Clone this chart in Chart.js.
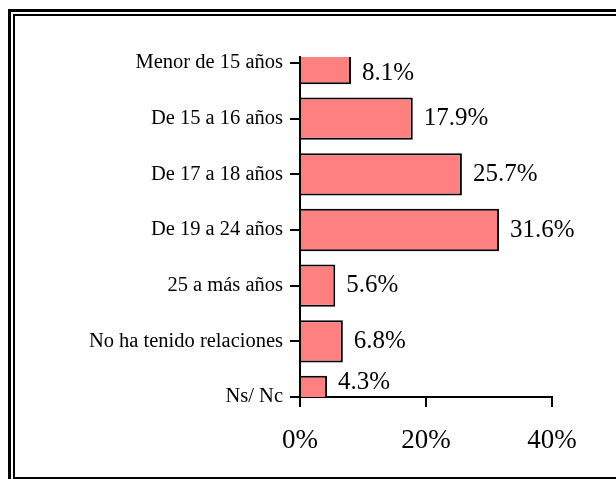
<!DOCTYPE html>
<html>
<head>
<meta charset="utf-8">
<script src="https://cdn.jsdelivr.net/npm/chart.js@4.4.1/dist/chart.umd.min.js"></script>
<style>
    html, body { margin: 0; padding: 0; background: #fff; overflow: hidden; }
    #wrap { position: relative; width: 616px; height: 479px; overflow: hidden; }
    .frame { position: absolute; box-sizing: border-box; border-style: solid; border-color: #000; }
    #outer { left: 8px; top: 9px; width: 700px; height: 700px; border-width: 3px; }
    #inner { left: 13px; top: 14px; width: 700px; height: 465px; border-width: 2px; }
    canvas { position: absolute; left: 0; top: 0; }
</style>
</head>
<body>
<div id="wrap">
    <div class="frame" id="outer"></div>
    <div class="frame" id="inner"></div>
    <canvas id="chart" width="616" height="479"></canvas>
</div>
<script>
// 类别（从上到下）
var CATEGORIES = [
    "Menor de 15 años",
    "De 15 a 16 años",
    "De 17 a 18 años",
    "De 19 a 24 años",
    "25 a más años",
    "No ha tenido relaciones",
    "Ns/ Nc"
];

// 百分比
var VALUES = [8.1, 17.9, 25.7, 31.6, 5.6, 6.8, 4.3];

// x 轴刻度
var X_TICKS = [0, 20, 40];

var SERIF = '"Liberation Serif", "Times New Roman", serif';

// 数值标签插件
var valueLabels = {
    id: "valueLabels",
    afterDatasetsDraw: function (chart) {
        var ctx  = chart.ctx;
        var area = chart.chartArea;
        var meta = chart.getDatasetMeta(0);
        ctx.save();
        ctx.fillStyle = "#000";
        ctx.font = "25px " + SERIF;
        ctx.textAlign = "left";
        ctx.textBaseline = "middle";
        meta.data.forEach(function (bar, i) {
            var p  = bar.getProps(["x", "y"], true);
            // 被裁掉的首尾柱子：标签保持在绘图区内
            var cy = Math.min(Math.max(p.y, area.top + 16), area.bottom - 15);
            ctx.fillText(VALUES[i].toFixed(1) + "%", p.x + 11, cy);
        });
        ctx.restore();
    }
};

var ctx = document.getElementById("chart").getContext("2d");

new Chart(ctx, {
    type: "bar",
    data: {
        datasets: [{
            data: VALUES.map(function (v, i) { return { x: v, y: i }; }),
            backgroundColor: "#ff8080",
            borderColor: "#000",
            borderWidth: 2,
            borderSkipped: "start",
            barPercentage: 0.76,
            categoryPercentage: 1,
            clip: 0
        }]
    },
    options: {
        indexAxis: "y",
        responsive: false,
        animation: false,
        layout: { padding: { top: 57, right: 64, bottom: 0, left: 0 } },
        plugins: {
            legend: { display: false },
            tooltip: { enabled: false }
        },
        scales: {
            x: {
                type: "linear",
                min: X_TICKS[0],
                max: X_TICKS[X_TICKS.length - 1],
                afterBuildTicks: function (scale) {
                    scale.ticks = X_TICKS.map(function (v) { return { value: v }; });
                },
                afterFit: function (scale) { scale.height = 82; },
                ticks: {
                    color: "#000",
                    font: { family: SERIF, size: 27 },
                    padding: 18,
                    maxRotation: 0,
                    callback: function (v) { return v + "%"; }
                },
                grid: {
                    drawOnChartArea: false,
                    drawTicks: true,
                    tickLength: 10,
                    color: "#000",
                    lineWidth: 2
                },
                border: { display: true, color: "#000", width: 2 }
            },
            y: {
                type: "linear",
                reverse: true,
                offset: false,
                min: -0.108,
                max: CATEGORIES.length - 1,
                afterBuildTicks: function (scale) {
                    scale.ticks = CATEGORIES.map(function (_, i) { return { value: i }; });
                },
                afterFit: function (scale) { scale.width = 300; },
                ticks: {
                    color: "#000",
                    font: { family: SERIF, size: 20.5 },
                    padding: 7,
                    callback: function (v) { return CATEGORIES[v]; }
                },
                grid: {
                    offset: false,
                    drawOnChartArea: false,
                    drawTicks: true,
                    tickLength: 10,
                    color: "#000",
                    lineWidth: 2
                },
                border: { display: true, color: "#000", width: 2 }
            }
        }
    },
    plugins: [valueLabels]
});
</script>
</body>
</html>
